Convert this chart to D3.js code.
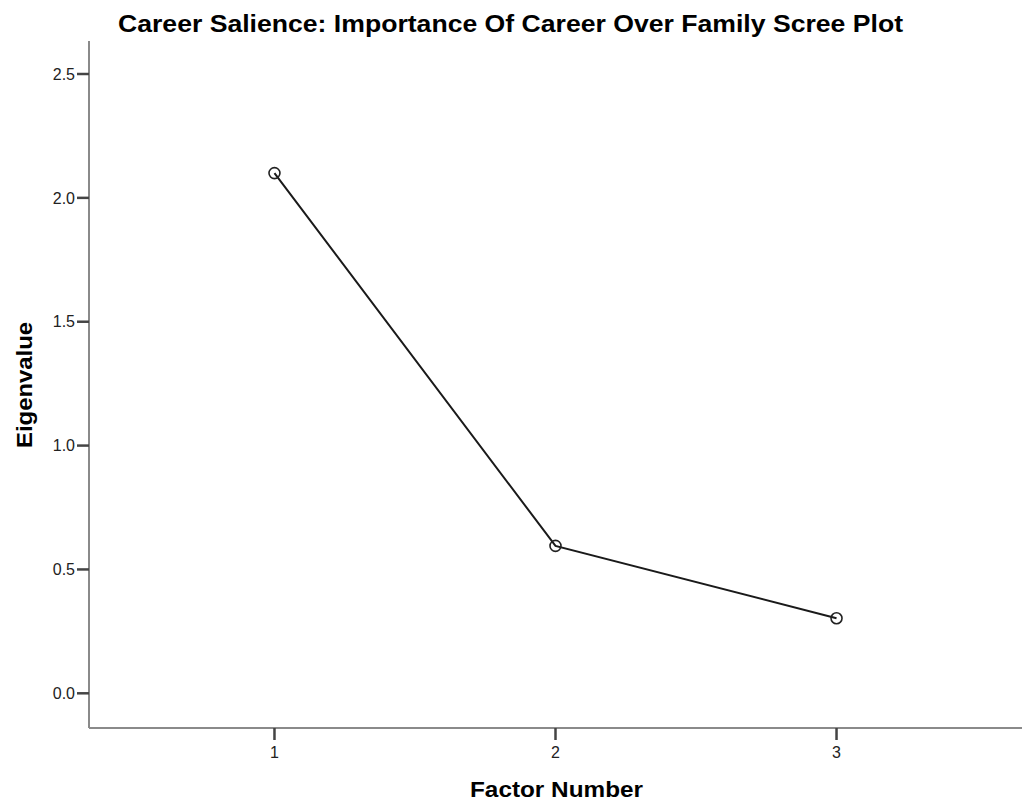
<!DOCTYPE html>
<html>
<head>
<meta charset="utf-8">
<script src="https://cdn.jsdelivr.net/npm/d3@7"></script>
<style>
  html, body { margin: 0; padding: 0; background: #fff; }
  svg { display: block; font-family: "Liberation Sans", Arial, sans-serif; }
</style>
</head>
<body>
<svg id="chart" width="1022" height="805"></svg>
<script>
// Scree plot data
const factors = [1, 2, 3];
const eigenvalues = [2.10, 0.595, 0.303];
const yTicks = [0.0, 0.5, 1.0, 1.5, 2.0, 2.5];
const xTicks = [1, 2, 3];

const title = "Career Salience: Importance Of Career Over Family Scree Plot";
const xTitle = "Factor Number";
const yTitle = "Eigenvalue";

const svg = d3.select("#chart");
const W = 1022, H = 805;

// Plot frame
const frame = { left: 89, right: W, top: 41, bottom: 728 };

const x = d3.scaleLinear().domain([0.34, 3.66]).range([frame.left, frame.right]);
const y = d3.scaleLinear().domain([0, 2.5]).range([693.3, 74]);

// Axis lines
svg.append("line")
  .attr("x1", frame.left).attr("x2", frame.left).attr("y1", frame.top).attr("y2", frame.bottom)
  .attr("stroke", "#8a8a8a").attr("stroke-width", 2);
svg.append("line")
  .attr("x1", frame.left).attr("x2", frame.right).attr("y1", frame.bottom).attr("y2", frame.bottom)
  .attr("stroke", "#8a8a8a").attr("stroke-width", 2);

// Y ticks
const yt = svg.append("g");
yt.selectAll("line").data(yTicks).join("line")
  .attr("x1", frame.left - 12).attr("x2", frame.left)
  .attr("y1", d => y(d)).attr("y2", d => y(d))
  .attr("stroke", "#444").attr("stroke-width", 2.5);
yt.selectAll("text").data(yTicks).join("text")
  .attr("x", frame.left - 14).attr("y", d => y(d))
  .attr("dy", "0.36em")
  .attr("text-anchor", "end")
  .attr("font-size", 16)
  .attr("fill", "#222")
  .text(d => d3.format(".1f")(d));

// X ticks
const xt = svg.append("g");
xt.selectAll("line").data(xTicks).join("line")
  .attr("x1", d => x(d)).attr("x2", d => x(d))
  .attr("y1", frame.bottom).attr("y2", frame.bottom + 12)
  .attr("stroke", "#444").attr("stroke-width", 2.5);
xt.selectAll("text").data(xTicks).join("text")
  .attr("x", d => x(d)).attr("y", 758)
  .attr("text-anchor", "middle")
  .attr("font-size", 16)
  .attr("fill", "#222")
  .text(d => d);

// Line and markers
const pts = factors.map((f, i) => [f, eigenvalues[i]]);
svg.append("path")
  .datum(pts)
  .attr("fill", "none")
  .attr("stroke", "#1a1a1a")
  .attr("stroke-width", 2)
  .attr("d", d3.line().x(d => x(d[0])).y(d => y(d[1])));

svg.append("g").selectAll("circle").data(pts).join("circle")
  .attr("cx", d => x(d[0])).attr("cy", d => y(d[1]))
  .attr("r", 5.5)
  .attr("fill", "none")
  .attr("stroke", "#222")
  .attr("stroke-width", 1.6);

// Titles
svg.append("text")
  .attr("x", 510.5).attr("y", 32)
  .attr("text-anchor", "middle")
  .attr("font-size", 24.5)
  .attr("font-weight", "bold")
  .attr("textLength", 785)
  .attr("lengthAdjust", "spacingAndGlyphs")
  .text(title);

svg.append("text")
  .attr("x", 556.5).attr("y", 797)
  .attr("text-anchor", "middle")
  .attr("font-size", 21.5)
  .attr("font-weight", "bold")
  .attr("textLength", 173)
  .attr("lengthAdjust", "spacingAndGlyphs")
  .text(xTitle);

svg.append("text")
  .attr("transform", "translate(32,385) rotate(-90)")
  .attr("text-anchor", "middle")
  .attr("font-size", 21.5)
  .attr("font-weight", "bold")
  .attr("textLength", 126)
  .attr("lengthAdjust", "spacingAndGlyphs")
  .text(yTitle);
</script>
</body>
</html>
